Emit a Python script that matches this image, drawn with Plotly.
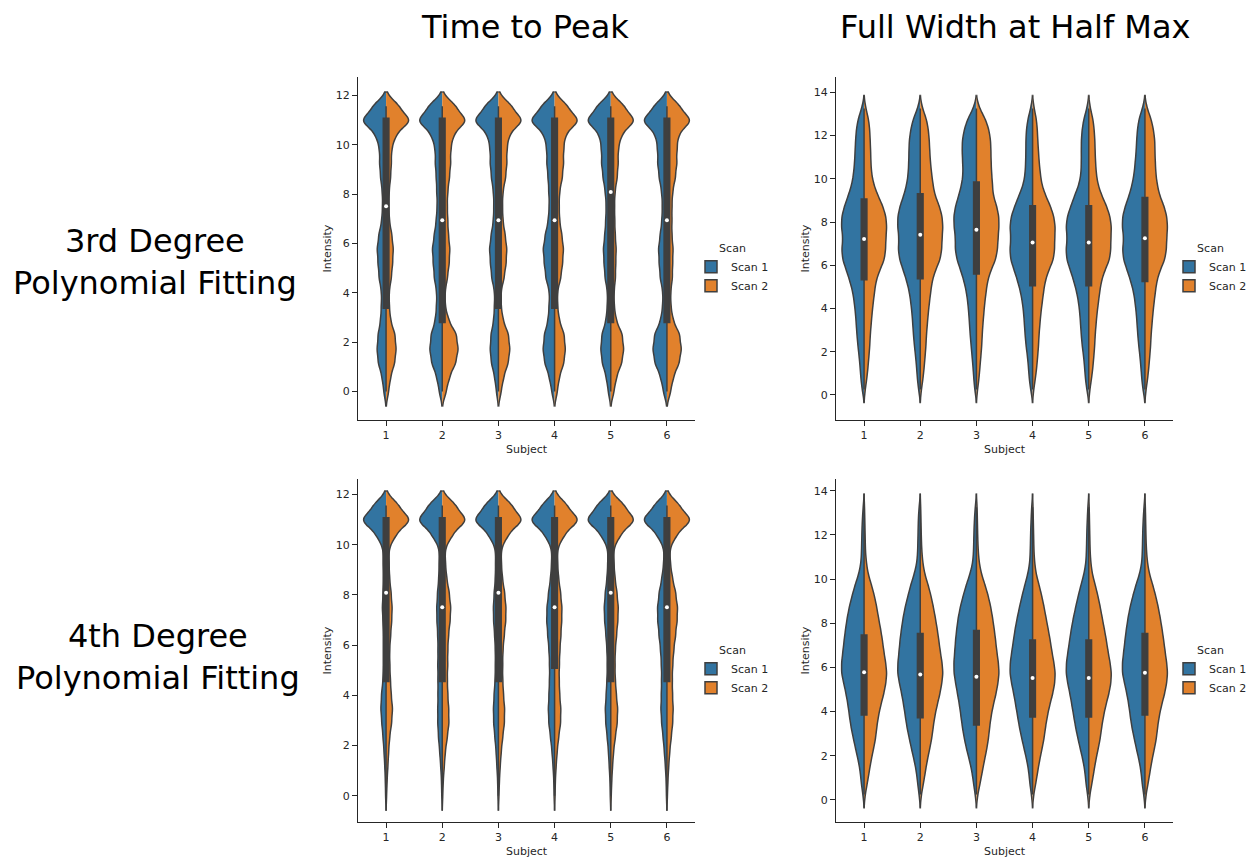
import numpy as np
import plotly.graph_objects as go

SUBJECTS = [1, 2, 3, 4, 5, 6]
SCANS = ["Scan 1", "Scan 2"]
COLORS = {"Scan 1": "#3274A1", "Scan 2": "#E1812C"}
EDGE = "#3F3F3F"
TEXT = "#262626"
FONT = "DejaVu Sans"

COL_TITLES = ["Time to Peak", "Full Width at Half Max"]
ROW_TITLES = ["3rd Degree<br>Polynomial Fitting", "4th Degree<br>Polynomial Fitting"]

# sample values (intensity levels) and how many samples sit at each level
TTP_GRID = [0.0, 0.58, 1.16, 1.73, 2.31, 2.89, 3.47, 4.05, 4.62, 5.2, 5.78,
            6.36, 6.94, 7.51, 8.09, 8.67, 9.25, 9.83, 10.4, 10.98, 11.56]
FWHM_GRID = [0.25, 0.75, 1.25, 1.75, 2.25, 2.75, 3.25, 3.75, 4.25, 4.75, 5.25,
             5.75, 6.25, 6.75, 7.25, 7.75, 8.25, 8.75, 9.25, 9.75, 10.25,
             10.75, 11.25, 11.75, 12.25, 12.75, 13.25]

# Time to Peak, 3rd degree fit (one row per subject)
TTP3_SCAN1 = [
    [9, 16, 31, 36, 32, 22, 19, 18, 28, 32, 36, 29, 17, 14, 15, 22, 26, 26, 40, 100, 52],
    [12, 22, 42, 50, 45, 28, 23, 22, 32, 36, 40, 32, 24, 20, 22, 24, 28, 28, 42, 100, 55],
    [8, 15, 28, 33, 30, 19, 16, 15, 27, 32, 36, 29, 20, 18, 20, 28, 33, 33, 42, 100, 54],
    [11, 21, 39, 46, 41, 26, 22, 20, 35, 41, 46, 37, 25, 21, 23, 26, 31, 31, 40, 100, 52],
    [10, 18, 34, 40, 36, 19, 14, 13, 23, 27, 30, 24, 20, 18, 22, 31, 37, 37, 44, 100, 55],
    [14, 25, 48, 56, 50, 25, 17, 16, 27, 31, 34, 27, 20, 18, 21, 31, 37, 37, 44, 100, 52],
]
TTP3_SCAN2 = [
    [10, 18, 34, 40, 36, 18, 13, 12, 21, 26, 29, 23, 13, 11, 12, 18, 21, 22, 38, 100, 52],
    [16, 29, 54, 64, 58, 26, 12, 11, 21, 28, 31, 25, 22, 20, 22, 29, 34, 34, 44, 100, 55],
    [11, 21, 39, 46, 41, 19, 11, 10, 23, 31, 34, 27, 18, 16, 18, 29, 34, 34, 42, 100, 54],
    [11, 19, 37, 43, 39, 19, 12, 11, 25, 32, 36, 29, 20, 18, 20, 31, 36, 36, 42, 100, 52],
    [13, 23, 44, 52, 47, 22, 14, 13, 19, 20, 22, 18, 16, 15, 17, 26, 30, 30, 42, 100, 55],
    [15, 26, 49, 58, 52, 25, 16, 15, 22, 23, 25, 20, 20, 20, 23, 34, 40, 40, 45, 100, 52],
]
# Time to Peak, 4th degree fit
TTP4_SCAN1 = [
    [2, 3, 5, 8, 12, 17, 21, 18, 12, 9, 8, 9, 12, 15, 12, 9, 11, 11, 38, 100, 50],
    [2, 3, 6, 10, 15, 18, 18, 17, 17, 18, 17, 18, 21, 22, 19, 14, 12, 11, 40, 100, 55],
    [2, 3, 6, 9, 14, 19, 20, 17, 13, 12, 12, 15, 19, 20, 17, 12, 11, 11, 38, 100, 55],
    [2, 3, 6, 10, 16, 23, 25, 22, 20, 20, 22, 27, 31, 30, 24, 16, 12, 11, 38, 100, 50],
    [2, 3, 6, 9, 14, 20, 22, 18, 15, 14, 15, 19, 24, 26, 22, 15, 12, 11, 38, 100, 55],
    [2, 3, 6, 10, 15, 21, 24, 22, 21, 22, 25, 31, 36, 37, 31, 20, 13, 11, 38, 100, 50],
]
TTP4_SCAN2 = [
    [2, 4, 7, 10, 14, 22, 26, 20, 17, 15, 14, 18, 22, 24, 20, 14, 12, 11, 38, 100, 50],
    [2, 4, 8, 12, 20, 27, 26, 22, 20, 22, 22, 25, 31, 34, 28, 18, 13, 11, 40, 100, 55],
    [2, 4, 7, 11, 17, 24, 25, 20, 17, 17, 18, 23, 29, 30, 25, 16, 12, 11, 38, 100, 55],
    [2, 3, 6, 10, 16, 24, 25, 20, 18, 19, 21, 25, 28, 29, 24, 16, 12, 11, 38, 100, 50],
    [2, 4, 7, 11, 18, 26, 28, 22, 18, 17, 18, 23, 28, 30, 25, 17, 13, 11, 38, 100, 55],
    [2, 4, 7, 11, 17, 23, 25, 22, 21, 23, 27, 34, 40, 42, 35, 22, 14, 11, 38, 100, 50],
]
# Full Width at Half Max, 3rd degree fit
FWHM3_SCAN1 = [
    [8, 13, 16, 20, 25, 29, 32, 35, 40, 46, 58, 72, 88, 92, 86, 93, 92, 80, 64, 50, 43, 39, 37, 35, 32, 25, 10],
    [7, 12, 15, 19, 24, 28, 31, 34, 39, 45, 56, 70, 86, 92, 88, 94, 94, 84, 68, 56, 50, 48, 47, 46, 40, 30, 11],
    [7, 11, 14, 18, 22, 26, 29, 32, 36, 42, 52, 66, 82, 90, 88, 94, 96, 88, 74, 62, 56, 58, 60, 60, 52, 38, 13],
    [8, 14, 17, 21, 27, 31, 34, 37, 42, 50, 62, 76, 92, 95, 90, 95, 90, 74, 56, 38, 31, 29, 28, 28, 26, 20, 8],
    [8, 14, 17, 21, 27, 31, 34, 37, 42, 50, 62, 76, 92, 95, 89, 95, 90, 74, 58, 40, 32, 31, 31, 31, 28, 21, 8],
    [8, 13, 16, 20, 25, 29, 32, 35, 40, 46, 58, 72, 88, 92, 86, 93, 92, 80, 64, 52, 44, 40, 36, 34, 31, 25, 10],
]
FWHM3_SCAN2 = [
    [5, 12, 17, 21, 25, 27, 31, 35, 40, 46, 52, 68, 90, 95, 96, 100, 97, 82, 60, 42, 33, 30, 29, 27, 25, 20, 8],
    [5, 12, 17, 21, 25, 27, 31, 35, 40, 46, 52, 66, 88, 95, 96, 100, 97, 84, 64, 56, 50, 45, 42, 40, 36, 28, 10],
    [5, 11, 15, 19, 23, 25, 28, 32, 36, 42, 48, 62, 84, 92, 94, 98, 98, 88, 72, 70, 66, 64, 63, 62, 55, 40, 14],
    [5, 12, 18, 22, 26, 28, 32, 36, 42, 48, 55, 70, 92, 97, 97, 100, 94, 78, 56, 40, 34, 29, 26, 23, 21, 17, 7],
    [5, 12, 18, 22, 26, 28, 32, 36, 42, 48, 55, 70, 92, 97, 97, 100, 94, 78, 56, 40, 33, 30, 28, 27, 24, 19, 7],
    [5, 12, 17, 21, 25, 27, 31, 35, 40, 46, 52, 66, 88, 95, 96, 100, 97, 84, 64, 54, 48, 46, 44, 44, 38, 28, 10],
]
# Full Width at Half Max, 4th degree fit
FWHM4_SCAN1 = [
    [5, 12, 16, 24, 35, 45, 55, 62, 68, 76, 86, 97, 96, 90, 85, 79, 72, 63, 51, 38, 22, 13, 11, 10, 9, 7, 4],
    [5, 11, 16, 25, 36, 46, 56, 63, 70, 78, 88, 97, 95, 90, 86, 80, 73, 64, 52, 40, 25, 14, 11, 10, 9, 8, 5],
    [5, 12, 18, 28, 40, 50, 58, 64, 70, 78, 86, 94, 94, 90, 87, 82, 76, 67, 55, 42, 26, 15, 12, 11, 10, 8, 5],
    [5, 12, 16, 24, 35, 46, 56, 64, 72, 80, 90, 98, 96, 89, 82, 75, 66, 56, 45, 33, 20, 12, 10, 9, 8, 6, 4],
    [5, 12, 16, 24, 35, 46, 56, 64, 72, 80, 90, 98, 96, 89, 82, 75, 66, 56, 45, 33, 20, 12, 10, 9, 8, 6, 4],
    [5, 12, 16, 24, 35, 45, 55, 62, 68, 76, 86, 97, 96, 90, 85, 79, 72, 63, 51, 38, 22, 13, 11, 10, 9, 7, 4],
]
FWHM4_SCAN2 = [
    [5, 14, 22, 30, 40, 50, 55, 62, 72, 85, 95, 100, 94, 86, 80, 72, 63, 55, 45, 32, 17, 10, 6, 5, 4, 3, 2],
    [5, 14, 22, 30, 40, 50, 56, 63, 73, 85, 94, 100, 95, 87, 81, 74, 66, 57, 47, 34, 19, 11, 7, 5, 4, 3, 2],
    [6, 16, 25, 34, 44, 52, 57, 63, 72, 84, 93, 99, 95, 88, 83, 77, 70, 62, 51, 37, 21, 12, 8, 6, 5, 4, 3],
    [5, 14, 22, 30, 40, 50, 56, 64, 74, 87, 97, 100, 93, 84, 77, 68, 59, 50, 40, 28, 15, 9, 6, 5, 4, 3, 2],
    [5, 14, 22, 30, 40, 50, 56, 64, 74, 87, 97, 100, 93, 84, 77, 68, 59, 50, 40, 28, 15, 9, 6, 5, 4, 3, 2],
    [5, 14, 22, 30, 40, 50, 55, 62, 72, 85, 95, 100, 95, 88, 82, 75, 67, 58, 47, 34, 19, 11, 7, 5, 4, 3, 2],
]

# inner box (both scans combined)
TTP3_Q1 = [3.38, 2.80, 3.38, 3.38, 2.80, 2.80]
TTP3_MED = [7.51, 6.94, 6.94, 6.94, 8.09, 6.94]
TTP3_Q3 = [11.08, 11.08, 11.08, 11.08, 11.08, 11.08]
TTP4_Q1 = [4.55, 4.55, 4.55, 5.08, 4.55, 4.55]
TTP4_MED = [8.09, 7.51, 8.09, 7.51, 8.09, 7.51]
TTP4_Q3 = [11.08, 11.08, 11.08, 11.08, 11.08, 11.08]
TTP_LO = [0.0, 0.0, 0.0, 0.0, 0.0, 0.0]
TTP_HI = [11.56, 11.56, 11.56, 11.56, 11.56, 11.56]
FWHM3_Q1 = [5.33, 5.37, 5.60, 5.05, 5.05, 5.25]
FWHM3_MED = [7.21, 7.41, 7.64, 7.05, 7.05, 7.25]
FWHM3_Q3 = [9.06, 9.31, 9.85, 8.75, 8.75, 9.14]
FWHM4_Q1 = [3.84, 3.72, 3.39, 3.75, 3.75, 3.84]
FWHM4_MED = [5.78, 5.68, 5.58, 5.52, 5.52, 5.76]
FWHM4_Q3 = [7.47, 7.54, 7.67, 7.24, 7.24, 7.54]
FWHM_LO = [0.25, 0.25, 0.25, 0.25, 0.25, 0.25]
FWHM_HI = [13.25, 13.25, 13.25, 13.25, 13.25, 13.25]

# page geometry: the HTML body adds an 8 px margin, so the figure is drawn
# 8 px smaller and every target pixel position is shifted by that amount
PAGE_PAD = 8
W, H = 1255 - PAGE_PAD, 859 - PAGE_PAD


def fx(px):
    return (px - PAGE_PAD) / W


def fy(py):
    return 1 - (py - PAGE_PAD) / H


# panel boxes in page pixels: (left, right, top, bottom)
BOXES = [(358, 695, 77, 420), (836, 1173, 77, 420), (358, 695, 479, 822), (836, 1173, 479, 822)]

PANELS = [
    dict(grid=TTP_GRID, counts=(TTP3_SCAN1, TTP3_SCAN2), q1=TTP3_Q1, med=TTP3_MED, q3=TTP3_Q3,
         lo=TTP_LO, hi=TTP_HI, bw=0.29, yrange=[-1.15, 12.75]),
    dict(grid=FWHM_GRID, counts=(FWHM3_SCAN1, FWHM3_SCAN2), q1=FWHM3_Q1, med=FWHM3_MED, q3=FWHM3_Q3,
         lo=FWHM_LO, hi=FWHM_HI, bw=0.3, yrange=[-1.16, 14.71]),
    dict(grid=TTP_GRID, counts=(TTP4_SCAN1, TTP4_SCAN2), q1=TTP4_Q1, med=TTP4_MED, q3=TTP4_Q3,
         lo=TTP_LO, hi=TTP_HI, bw=0.29, yrange=[-1.05, 12.62]),
    dict(grid=FWHM_GRID, counts=(FWHM4_SCAN1, FWHM4_SCAN2), q1=FWHM4_Q1, med=FWHM4_MED, q3=FWHM4_Q3,
         lo=FWHM_LO, hi=FWHM_HI, bw=0.3, yrange=[-1.0, 14.53]),
]

fig = go.Figure()
layout_axes = {}
annotations = []

for p, pn in enumerate(PANELS):
    sfx = "" if p == 0 else str(p + 1)
    xa, ya = "x" + sfx, "y" + sfx
    leg = "legend" + sfx
    xl, xr, yt, yb = BOXES[p]
    for si, scan in enumerate(SCANS):
        for j, subj in enumerate(SUBJECTS):
            vals = np.repeat(np.array(pn["grid"]), pn["counts"][si][j])
            fig.add_trace(go.Violin(
                x=np.full(len(vals), subj), y=vals,
                side="negative" if si == 0 else "positive",
                width=0.8, scalemode="width", scalegroup=f"p{p}s{subj}c{si}",
                bandwidth=pn["bw"], spanmode="soft", points=False,
                fillcolor=COLORS[scan], opacity=1,
                line=dict(color=EDGE, width=1.5),
                name=scan, legendgroup=f"{p}-{scan}", showlegend=(j == 0),
                legend=leg, xaxis=xa, yaxis=ya, hoverinfo="skip",
            ))
    fig.add_trace(go.Box(
        x=SUBJECTS, q1=pn["q1"], median=pn["med"], q3=pn["q3"],
        lowerfence=pn["lo"], upperfence=pn["hi"],
        width=0.1, fillcolor=EDGE, line=dict(color=EDGE, width=1.5),
        whiskerwidth=0, boxpoints=False, showlegend=False,
        xaxis=xa, yaxis=ya, hoverinfo="skip",
    ))
    fig.add_trace(go.Scatter(
        x=SUBJECTS, y=pn["med"], mode="markers",
        marker=dict(color="white", size=4, line=dict(width=0)),
        showlegend=False, xaxis=xa, yaxis=ya, hoverinfo="skip",
    ))

    axis_common = dict(showline=True, linecolor=TEXT, linewidth=1.25, ticks="outside",
                       ticklen=5, tickwidth=1.25, tickcolor=TEXT, showgrid=False,
                       zeroline=False, tickfont=dict(family=FONT, size=11, color=TEXT))
    layout_axes["xaxis" + sfx] = dict(domain=[fx(xl), fx(xr)], anchor=ya, range=[0.5, 6.5],
                                      tickvals=SUBJECTS, **axis_common)
    layout_axes["yaxis" + sfx] = dict(domain=[fy(yb), fy(yt)], anchor=xa, range=pn["yrange"],
                                      dtick=2, tick0=0, **axis_common)

    annotations.append(dict(text="Subject", x=fx((xl + xr) / 2), y=fy(yb + 29),
                            xref="paper", yref="paper", xanchor="center", yanchor="middle",
                            showarrow=False, font=dict(family=FONT, size=11, color=TEXT)))
    annotations.append(dict(text="Intensity", x=fx(xl - 31), y=fy((yt + yb) / 2),
                            xref="paper", yref="paper", xanchor="center", yanchor="middle",
                            showarrow=False, textangle=-90,
                            font=dict(family=FONT, size=11, color=TEXT)))
    layout_axes[leg] = dict(
        x=fx(xr - 4), y=fy(yt + 161),
        xanchor="left", yanchor="top",
        title=dict(text="Scan", side="top center", font=dict(family=FONT, size=11, color=TEXT)),
        font=dict(family=FONT, size=11, color=TEXT), bgcolor="rgba(0,0,0,0)",
        tracegroupgap=0, traceorder="normal",
    )

# column and row titles
for text, xc in zip(COL_TITLES, [525, 1015]):
    annotations.append(dict(text=text, x=fx(xc), y=fy(27), xref="paper", yref="paper",
                            xanchor="center", yanchor="middle", showarrow=False, borderpad=0,
                            font=dict(family=FONT, size=32, color="black")))
for text, (xc, yc) in zip(ROW_TITLES, [(155, 262), (158, 657)]):
    annotations.append(dict(text=text, x=fx(xc), y=fy(yc), xref="paper", yref="paper",
                            xanchor="center", yanchor="middle", showarrow=False,
                            font=dict(family=FONT, size=32, color="black")))

fig.update_layout(
    width=W, height=H, margin=dict(l=0, r=0, t=0, b=0),
    paper_bgcolor="white", plot_bgcolor="white",
    violinmode="overlay", boxmode="overlay", violingap=0, violingroupgap=0,
    annotations=annotations, font=dict(family=FONT, color=TEXT),
    **layout_axes,
)

fig.write_html("out.html")
